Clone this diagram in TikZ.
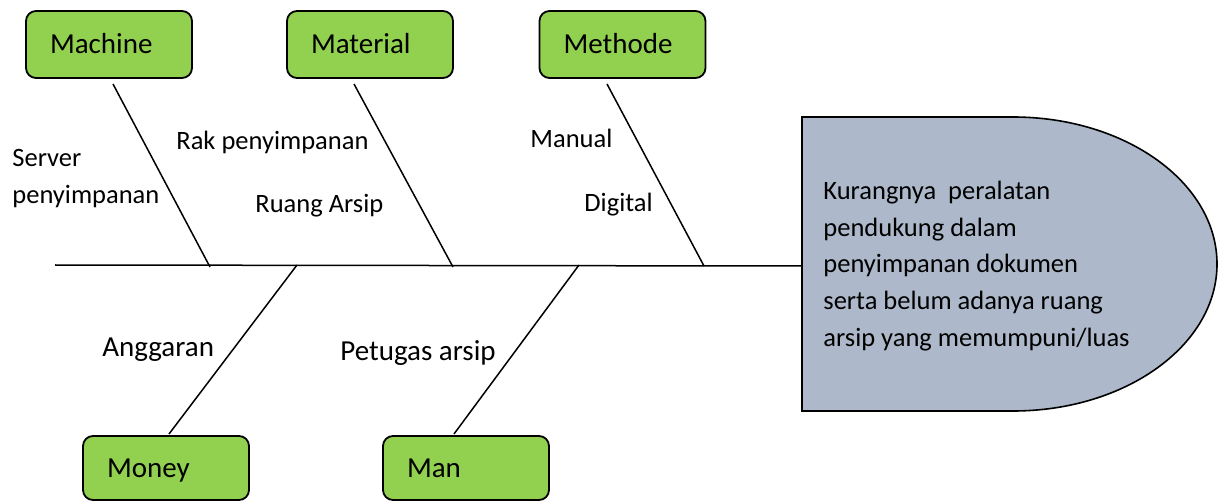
\documentclass[tikz,border=0pt]{standalone}
\usepackage{fontspec}
\setmainfont{Carlito}
\usetikzlibrary{positioning,calc}
\definecolor{catgreen}{RGB}{146,208,80}
\definecolor{headgray}{RGB}{173,185,202}
\tikzset{
    bone/.style={line width=.75pt},
    category/.style={draw,line width=.9pt,rounded corners=5pt,fill=catgreen,
        text width=59pt,inner xsep=12pt,inner ysep=0pt,align=left,
        text height=11pt,text depth=2pt,
        font=\fontsize{14.5}{17}\selectfont},
    cause/.style={inner sep=0pt,anchor=base west,font=\fontsize{13.25}{18.3}\selectfont},
    big cause/.style={cause,font=\fontsize{14.5}{17}\selectfont},
}

\begin{document}
\begin{tikzpicture}[
            x=.5pt,y=-.5pt,
            top row/.style={category,minimum height=33.5pt},
            bottom row/.style={category,minimum height=32pt}
        ]
        \useasboundingbox (0,0) rectangle (1226,502);

        % categories
        \node[top row] (machine) at (109,44.5) {Machine};
        \node[top row] (material) at (370,44.5) {Material};
        \node[top row] (methode) at (622.5,44.5) {Methode};
        \node[bottom row] (money) at (166,468) {Money};
        \node[bottom row] (man) at (466,468) {Man};

        % head
        \coordinate (tail) at (55,265);
        \coordinate (head) at (802,266);
        \draw[line width=.8pt,fill=headgray] (802,117) -- (1013,117)
        arc[start angle=-90,end angle=90,x radius=204,y radius=147]
        -- (802,411) -- cycle;
        \node[cause,anchor=north west,align=left] (problem) at (823,181)
        {Kurangnya\ \ peralatan\\pendukung dalam\\penyimpanan dokumen\\
        serta belum adanya ruang\\arsip yang memumpuni/luas};

        % spine and bones
        \coordinate (MachineTop) at (113,84);
        \coordinate (MachineFoot) at (210,267);
        \coordinate (MaterialTop) at (354,84);
        \coordinate (MaterialFoot) at (453,267);
        \coordinate (MethodeTop) at (607,84);
        \coordinate (MethodeFoot) at (704,266);
        \coordinate (MoneyEnd) at (169,434);
        \coordinate (MoneyFoot) at (297,265);
        \coordinate (ManEnd) at (454,434);
        \coordinate (ManFoot) at (579,265);

        \draw[bone] (tail) -- (head);
        \draw[bone] (MachineTop) -- (MachineFoot);
        \draw[bone] (MaterialTop) -- (MaterialFoot);
        \draw[bone] (MethodeTop) -- (MethodeFoot);
        \draw[bone] (MoneyEnd) -- (MoneyFoot);
        \draw[bone] (ManEnd) -- (ManFoot);

        % causes
        \node[cause,anchor=north west,align=left] (server) at (12,149)
        {Server\\penyimpanan};
        \node[cause] (rak) at (176,150) {Rak penyimpanan};
        \node[cause] (ruang) at (255,213) {Ruang Arsip};
        \node[cause] (manual) at (530,148) {Manual};
        \node[cause] (digital) at (584,212) {Digital};
        \node[big cause] (anggaran) at (102,357) {Anggaran};
        \node[big cause] (petugas) at (340,360) {Petugas arsip};
    \end{tikzpicture}
\end{document}
